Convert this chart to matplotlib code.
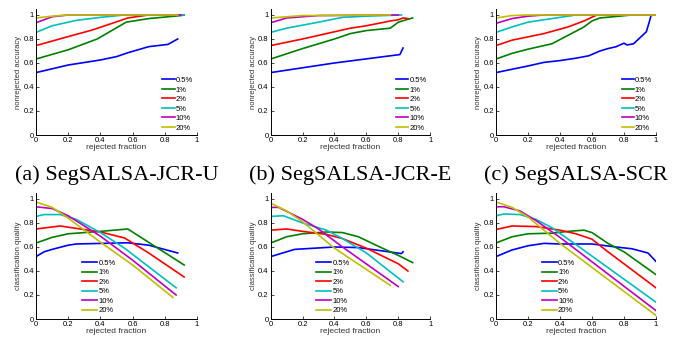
import matplotlib.pyplot as plt

labels = ['0.5%', '1%', '2%', '5%', '10%', '20%']
colors = [(0, 0, 1), (0, 0.5, 0), (1, 0, 0), (0, 0.75, 0.75), (0.75, 0, 0.75), (0.75, 0.75, 0)]
captions = ['(a) SegSALSA-JCR-U', '(b) SegSALSA-JCR-E', '(c) SegSALSA-SCR']

# top row: nonrejected accuracy vs rejected fraction
acc_a = [
    ([0, 0.2, 0.4, 0.5, 0.57, 0.7, 0.82, 0.88], [0.52, 0.583, 0.625, 0.653, 0.685, 0.736, 0.755, 0.80]),
    ([0, 0.2, 0.38, 0.56, 0.7, 0.9, 0.92], [0.633, 0.71, 0.80, 0.94, 0.97, 0.995, 1.0]),
    ([0, 0.2, 0.35, 0.45, 0.57, 0.7, 0.92], [0.745, 0.82, 0.875, 0.92, 0.975, 1.0, 1.0]),
    ([0, 0.1, 0.25, 0.4, 0.55, 0.92], [0.855, 0.91, 0.955, 0.98, 1.0, 1.0]),
    ([0, 0.1, 0.2, 0.9], [0.935, 0.985, 1.0, 1.0]),
    ([0, 0.1, 0.2, 0.88], [0.975, 0.99, 1.0, 1.0]),
]
acc_b = [
    ([0, 0.4, 0.78, 0.81, 0.83], [0.52, 0.60, 0.665, 0.67, 0.725]),
    ([0, 0.2, 0.4, 0.5, 0.6, 0.75, 0.8, 0.85, 0.89], [0.633, 0.72, 0.80, 0.845, 0.87, 0.89, 0.94, 0.96, 0.975]),
    ([0, 0.2, 0.4, 0.5, 0.6, 0.75, 0.8, 0.83, 0.86], [0.745, 0.80, 0.86, 0.89, 0.91, 0.95, 0.96, 0.975, 0.97]),
    ([0, 0.1, 0.3, 0.45, 0.6, 0.82], [0.855, 0.89, 0.94, 0.98, 0.99, 1.0]),
    ([0, 0.1, 0.3, 0.8], [0.935, 0.975, 0.995, 1.0]),
    ([0, 0.2, 0.75], [0.975, 0.995, 1.0]),
]
acc_c = [
    ([0, 0.2, 0.3, 0.4, 0.5, 0.58, 0.65, 0.7, 0.75, 0.8, 0.82, 0.86, 0.9, 0.94, 0.96, 0.97, 1.0],
     [0.52, 0.575, 0.605, 0.62, 0.64, 0.66, 0.70, 0.72, 0.735, 0.765, 0.75, 0.76, 0.81, 0.86, 0.95, 1.0, 1.0]),
    ([0, 0.1, 0.2, 0.35, 0.45, 0.55, 0.6, 0.65, 0.85, 1.0], [0.633, 0.68, 0.715, 0.76, 0.83, 0.90, 0.95, 0.975, 1.0, 1.0]),
    ([0, 0.1, 0.3, 0.45, 0.55, 0.63, 1.0], [0.745, 0.79, 0.845, 0.90, 0.95, 1.0, 1.0]),
    ([0, 0.1, 0.2, 0.35, 0.5, 1.0], [0.855, 0.90, 0.94, 0.97, 1.0, 1.0]),
    ([0, 0.1, 0.2, 0.3, 1.0], [0.93, 0.97, 0.99, 1.0, 1.0]),
    ([0, 0.1, 0.2, 1.0], [0.975, 0.995, 1.0, 1.0]),
]

# bottom row: classification quality vs rejected fraction
q_a = [
    ([0, 0.05, 0.1, 0.2, 0.25, 0.57, 0.7, 0.88], [0.52, 0.56, 0.58, 0.615, 0.625, 0.635, 0.615, 0.55]),
    ([0, 0.1, 0.2, 0.4, 0.57, 0.92], [0.633, 0.68, 0.71, 0.73, 0.75, 0.45]),
    ([0, 0.15, 0.3, 0.4, 0.55, 0.7, 0.92], [0.75, 0.775, 0.745, 0.725, 0.675, 0.55, 0.35]),
    ([0, 0.05, 0.15, 0.25, 0.4, 0.55, 0.87], [0.855, 0.87, 0.87, 0.83, 0.72, 0.59, 0.26]),
    ([0, 0.1, 0.2, 0.4, 0.6, 0.87], [0.935, 0.92, 0.86, 0.69, 0.49, 0.20]),
    ([0, 0.1, 0.2, 0.4, 0.6, 0.85], [0.975, 0.93, 0.84, 0.64, 0.45, 0.18]),
]
q_b = [
    ([0, 0.15, 0.4, 0.55, 0.82, 0.83], [0.52, 0.58, 0.60, 0.595, 0.545, 0.56]),
    ([0, 0.1, 0.2, 0.35, 0.45, 0.55, 0.7, 0.8, 0.89], [0.633, 0.685, 0.71, 0.725, 0.72, 0.685, 0.59, 0.53, 0.47]),
    ([0, 0.1, 0.2, 0.35, 0.45, 0.6, 0.8, 0.86], [0.74, 0.75, 0.73, 0.705, 0.67, 0.59, 0.46, 0.40]),
    ([0, 0.08, 0.2, 0.35, 0.45, 0.6, 0.83], [0.855, 0.86, 0.80, 0.74, 0.67, 0.55, 0.31]),
    ([0, 0.05, 0.2, 0.3, 0.45, 0.8], [0.93, 0.93, 0.83, 0.75, 0.60, 0.27]),
    ([0, 0.1, 0.2, 0.4, 0.75], [0.965, 0.90, 0.81, 0.59, 0.28]),
]
q_c = [
    ([0, 0.1, 0.2, 0.3, 0.4, 0.6, 0.75, 0.85, 0.95, 1.0], [0.52, 0.575, 0.61, 0.63, 0.625, 0.625, 0.60, 0.585, 0.55, 0.48]),
    ([0, 0.1, 0.2, 0.35, 0.45, 0.55, 0.6, 0.7, 0.8, 1.0], [0.633, 0.685, 0.71, 0.715, 0.73, 0.74, 0.72, 0.63, 0.56, 0.37]),
    ([0, 0.1, 0.25, 0.4, 0.5, 0.6, 0.7, 1.0], [0.745, 0.775, 0.77, 0.74, 0.71, 0.665, 0.56, 0.26]),
    ([0, 0.05, 0.15, 0.25, 0.35, 0.5, 1.0], [0.86, 0.875, 0.87, 0.83, 0.76, 0.62, 0.14]),
    ([0, 0.05, 0.15, 0.25, 0.4, 1.0], [0.935, 0.935, 0.90, 0.82, 0.68, 0.07]),
    ([0, 0.1, 0.2, 0.4, 1.0], [0.975, 0.93, 0.85, 0.63, 0.03]),
]

top = [acc_a, acc_b, acc_c]
bottom = [q_a, q_b, q_c]

plt.rcParams['font.family'] = ['Liberation Sans', 'DejaVu Sans']
fig = plt.figure(figsize=(6.86, 3.37), dpi=100)

lefts = [0.0525, 0.3946, 0.723]
widths = [0.2347, 0.2325, 0.2332]
tick_fs = 5.5
gray = '#333333'


def style(ax, ylabel):
    ax.set_xlim(0, 1)
    ax.set_ylim(0, 1.05)
    ax.set_xticks([0, 0.2, 0.4, 0.6, 0.8, 1])
    ax.set_xticklabels(['0', '0.2', '0.4', '0.6', '0.8', '1'])
    ax.set_yticks([0, 0.2, 0.4, 0.6, 0.8, 1])
    ax.set_yticklabels(['0', '0.2', '0.4', '0.6', '0.8', '1'])
    ax.spines['top'].set_visible(False)
    ax.spines['right'].set_visible(False)
    for s in ['left', 'bottom']:
        ax.spines[s].set_linewidth(0.7)
    ax.tick_params(direction='in', length=2, width=0.5, labelsize=tick_fs, pad=1.5)
    ax.set_xlabel('rejected fraction', fontsize=6, color=gray, labelpad=0)
    ax.set_ylabel(ylabel, fontsize=5.5, color=gray, labelpad=1)


for i in range(3):
    ax = fig.add_axes([lefts[i], 0.5994, widths[i], 0.374])
    for (xs, ys), c, lab in zip(top[i], colors, labels):
        ax.plot(xs, ys, color=c, lw=1.2, label=lab)
    style(ax, 'nonrejected accuracy')
    ax.legend(loc='upper left', bbox_to_anchor=(0.785, 0.485), bbox_transform=ax.transData,
              frameon=False, fontsize=tick_fs, handlelength=1.6, handletextpad=0.15,
              labelspacing=0.28, borderpad=0, borderaxespad=0)
    ax.text(0.5, -0.32, captions[i], transform=ax.transAxes, ha='center', va='center',
            fontsize=16, family='Liberation Serif')

    ax = fig.add_axes([lefts[i], 0.0534, widths[i], 0.374])
    for (xs, ys), c, lab in zip(bottom[i], colors, labels):
        ax.plot(xs, ys, color=c, lw=1.2, label=lab)
    style(ax, 'classification quality')
    ax.legend(loc='upper left', bbox_to_anchor=(0.285, 0.495), bbox_transform=ax.transData,
              frameon=False, fontsize=tick_fs, handlelength=2.0, handletextpad=0.15,
              labelspacing=0.28, borderpad=0, borderaxespad=0)

fig.savefig('out.png', dpi=100)
